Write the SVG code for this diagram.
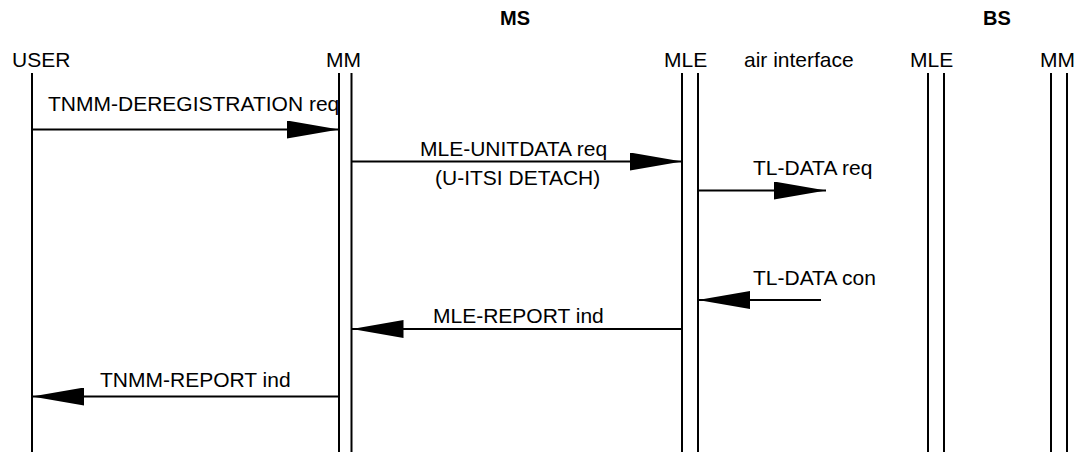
<svg xmlns="http://www.w3.org/2000/svg" width="1075" height="452" viewBox="0 0 1075 452">
<style>
text{font-family:"Liberation Sans",Arial,sans-serif;font-size:21px;fill:#000}
.b{font-weight:bold;font-size:20px}
.life{stroke:#000;stroke-width:2;fill:none}
.msg{stroke:#000;stroke-width:2;fill:none;marker-end:url(#ah)}
</style>
<defs>
<marker id="ah" markerUnits="userSpaceOnUse" markerWidth="52" markerHeight="18" viewBox="0 0 52 18" refX="52" refY="9" orient="auto">
<path d="M0,0 L52,9 L0,18 Z" fill="#000"/>
</marker>
</defs>
<rect width="1075" height="452" fill="#fff"/>
<text class="b" x="515" y="25" text-anchor="middle">MS</text>
<text class="b" x="997" y="25" text-anchor="middle">BS</text>
<text x="744" y="67">air interface</text>
<g id="user">
<text x="12" y="67">USER</text>
<line class="life" x1="32" y1="73" x2="32" y2="452"/>
</g>
<g id="ms-mm">
<text x="326" y="67">MM</text>
<line class="life" x1="339" y1="73" x2="339" y2="452"/>
<line class="life" x1="351.5" y1="73" x2="351.5" y2="452"/>
</g>
<g id="ms-mle">
<text x="664" y="67">MLE</text>
<line class="life" x1="682" y1="73" x2="682" y2="452"/>
<line class="life" x1="698" y1="73" x2="698" y2="452"/>
</g>
<g id="bs-mle">
<text x="910" y="67">MLE</text>
<line class="life" x1="928" y1="73" x2="928" y2="452"/>
<line class="life" x1="944" y1="73" x2="944" y2="452"/>
</g>
<g id="bs-mm">
<text x="1040" y="67">MM</text>
<line class="life" x1="1051" y1="73" x2="1051" y2="452"/>
<line class="life" x1="1067" y1="73" x2="1067" y2="452"/>
</g>
<g id="connectors">
<line class="msg" x1="32" y1="129.5" x2="339" y2="129.5"/>
<text x="48" y="111">TNMM-DEREGISTRATION req</text>
<line class="msg" x1="351.5" y1="161.5" x2="682" y2="161.5"/>
<text x="420" y="156">MLE-UNITDATA req</text>
<text x="435" y="185">(U-ITSI DETACH)</text>
<line class="msg" x1="698" y1="190.5" x2="826" y2="190.5"/>
<text x="753" y="175">TL-DATA req</text>
<line class="msg" x1="821" y1="300" x2="698" y2="300"/>
<text x="753" y="285">TL-DATA con</text>
<line class="msg" x1="682" y1="329" x2="351.5" y2="329"/>
<text x="433" y="323">MLE-REPORT ind</text>
<line class="msg" x1="339" y1="396.5" x2="32" y2="396.5"/>
<text x="100" y="387">TNMM-REPORT ind</text>
</g>
</svg>
